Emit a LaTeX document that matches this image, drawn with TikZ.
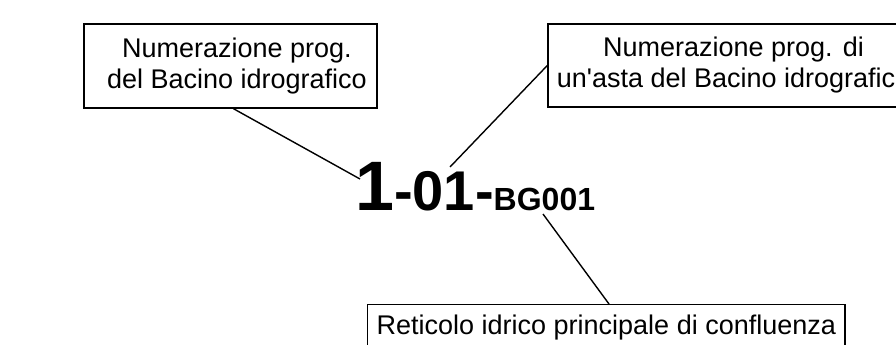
\documentclass[tikz,border=0pt]{standalone}
\usepackage{fontspec}
\setmainfont{Liberation Sans}
\begin{document}
\begin{tikzpicture}[x=1pt,y=-1pt,
  box/.style={draw, line width=1.4pt, font=\fontsize{27}{31}\selectfont, align=center, inner sep=0pt},
  link/.style={line width=1.4pt}]
\useasboundingbox (0,0) rectangle (896,345);
\node[box, minimum width=293pt, minimum height=84pt] (b1) at (230.5,66) {\hspace*{13pt}Numerazione prog.\\\hspace*{13pt}del Bacino idrografico};
\node[box, minimum width=371pt, minimum height=83pt] (b2) at (733.5,65.5) {Numerazione prog. di\\un\textquotesingle asta del Bacino idrografico};
\node[box, anchor=north west, minimum height=46pt, inner xsep=9pt] (b3) at (367,304) {Reticolo idrico principale di confluenza};
\node[anchor=base west, inner sep=0pt, font=\bfseries] (lab) at (355,210)
  {{\fontsize{70}{70}\selectfont 1}{\fontsize{56}{56}\selectfont -01-}{\fontsize{32}{32}\selectfont BG001}};
\coordinate (a1) at (360,179);
\coordinate (a2) at (450,167);
\coordinate (a3) at (543,214);
\draw[link] ([xshift=3pt]b1.south) -- (a1);
\draw[link] (b2.west) -- (a2);
\draw[link] (a3) -- ([xshift=242pt]b3.north west);
\end{tikzpicture}
\end{document}
